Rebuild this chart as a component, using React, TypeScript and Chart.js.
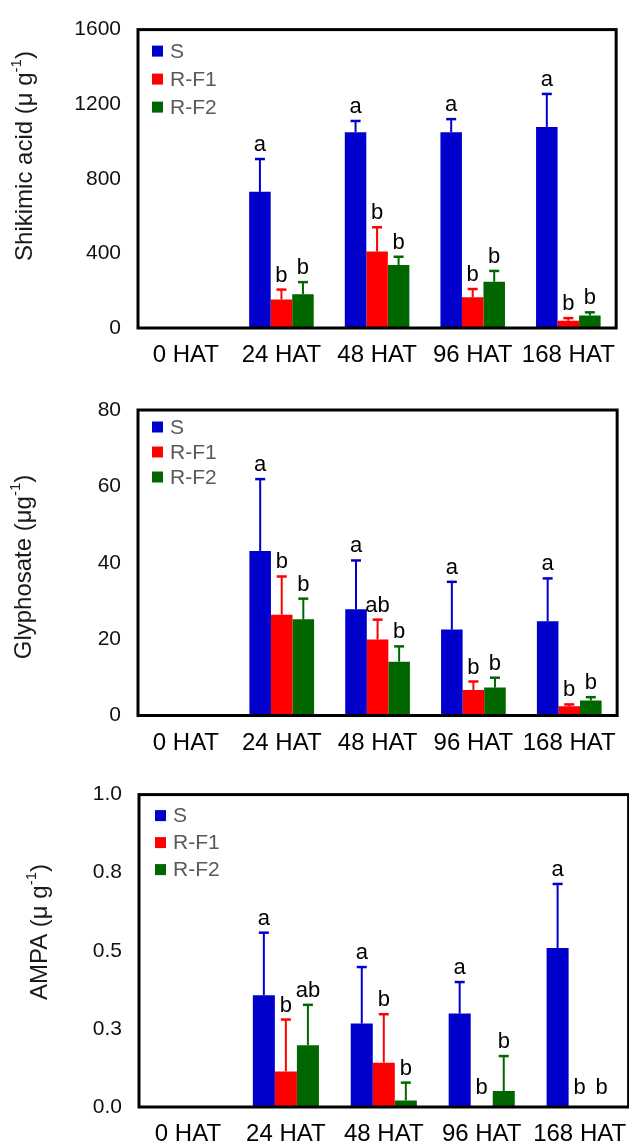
import React, { useEffect, useRef } from "react";
import { Chart, registerables } from "chart.js";

Chart.register(...registerables);

const FONT = '"Liberation Sans", Arial, sans-serif';

const categories = ["0 HAT", "24 HAT", "48 HAT", "96 HAT", "168 HAT"];
const seriesNames = ["S", "R-F1", "R-F2"];
const seriesColors = ["#0000CC", "#FF0000", "#006600"];

// Shikimic acid (µ g-1)
const shikimicS = [0, 730, 1050, 1050, 1078];
const shikimicSErr = [0, 176, 60, 70, 177];
const shikimicF1 = [0, 153, 410, 165, 39];
const shikimicF1Err = [0, 53, 130, 44, 14];
const shikimicF2 = [0, 181, 338, 248, 67];
const shikimicF2Err = [0, 65, 44, 58, 17];
const shikimicLettersS = ["", "a", "a", "a", "a"];
const shikimicLettersF1 = ["", "b", "b", "b", "b"];
const shikimicLettersF2 = ["", "b", "b", "b", "b"];
const shikimicTickValues = [0, 400, 800, 1200, 1600];
const shikimicTickLabels = ["0", "400", "800", "1200", "1600"];

// Glyphosate (µg-1)
const glyphoS = [0, 43.1, 27.8, 22.5, 24.7];
const glyphoSErr = [0, 18.8, 12.8, 12.5, 11.2];
const glyphoF1 = [0, 26.4, 19.9, 6.7, 2.4];
const glyphoF1Err = [0, 10.0, 5.2, 2.2, 0.5];
const glyphoF2 = [0, 25.2, 14.1, 7.3, 3.9];
const glyphoF2Err = [0, 5.4, 4.0, 2.6, 0.9];
const glyphoLettersS = ["", "a", "a", "a", "a"];
const glyphoLettersF1 = ["", "b", "ab", "b", "b"];
const glyphoLettersF2 = ["", "b", "b", "b", "b"];
const glyphoTickValues = [0, 20, 40, 60, 80];
const glyphoTickLabels = ["0", "20", "40", "60", "80"];

// AMPA (µ g-1)
const ampaS = [0, 0.358, 0.267, 0.299, 0.509];
const ampaSErr = [0, 0.2, 0.181, 0.101, 0.205];
const ampaF1 = [0, 0.114, 0.142, 0, 0];
const ampaF1Err = [0, 0.166, 0.155, 0, 0];
const ampaF2 = [0, 0.198, 0.021, 0.051, 0];
const ampaF2Err = [0, 0.129, 0.057, 0.112, 0];
const ampaLettersS = ["", "a", "a", "a", "a"];
const ampaLettersF1 = ["", "b", "b", "b", "b"];
const ampaLettersF2 = ["", "ab", "b", "b", "b"];
const ampaTickValues = [0, 0.25, 0.5, 0.75, 1.0];
const ampaTickLabels = ["0.0", "0.3", "0.5", "0.8", "1.0"];

type PanelDef = {
  values: number[][];
  errors: number[][];
  letters: string[][];
  tickValues: number[];
  tickLabels: string[];
  titleMain: string;
  titleSup: string;
  titleEnd: string;
  top: number;
  height: number;
  width: number;
  area: { left: number; top: number; right: number; bottom: number };
  xAxisH: number;
  titleX: number;
  titleY: number;
  legend: { dx: number; dy: number; gap: number };
};

const panels: PanelDef[] = [
  {
    values: [shikimicS, shikimicF1, shikimicF2],
    errors: [shikimicSErr, shikimicF1Err, shikimicF2Err],
    letters: [shikimicLettersS, shikimicLettersF1, shikimicLettersF2],
    tickValues: shikimicTickValues,
    tickLabels: shikimicTickLabels,
    titleMain: "Shikimic acid (μ g",
    titleSup: "-1",
    titleEnd: ")",
    top: 0,
    height: 380,
    width: 629,
    area: { left: 138, top: 24.5, right: 617, bottom: 328 },
    xAxisH: 40,
    titleX: 25,
    titleY: 156,
    legend: { dx: 14, dy: 21.5, gap: 28 },
  },
  {
    values: [glyphoS, glyphoF1, glyphoF2],
    errors: [glyphoSErr, glyphoF1Err, glyphoF2Err],
    letters: [glyphoLettersS, glyphoLettersF1, glyphoLettersF2],
    tickValues: glyphoTickValues,
    tickLabels: glyphoTickLabels,
    titleMain: "Glyphosate (μg",
    titleSup: "-1",
    titleEnd: ")",
    top: 380,
    height: 385,
    width: 629,
    area: { left: 138, top: 30, right: 626, bottom: 335.5 },
    xAxisH: 40,
    titleX: 24,
    titleY: 187,
    legend: { dx: 14, dy: 17, gap: 25 },
  },
  {
    values: [ampaS, ampaF1, ampaF2],
    errors: [ampaSErr, ampaF1Err, ampaF2Err],
    letters: [ampaLettersS, ampaLettersF1, ampaLettersF2],
    tickValues: ampaTickValues,
    tickLabels: ampaTickLabels,
    titleMain: "AMPA (μ g",
    titleSup: "-1",
    titleEnd: ")",
    top: 765,
    height: 380,
    width: 640,
    area: { left: 139, top: 29, right: 631, bottom: 342 },
    xAxisH: 34,
    titleX: 40,
    titleY: 167,
    legend: { dx: 16, dy: 21, gap: 27 },
  },
];

function makeDecor(def: PanelDef) {
  return {
    id: "panelDecor",
    afterDatasetsDraw(chart: any) {
      const ctx = chart.ctx as CanvasRenderingContext2D;
      const y = chart.scales.y;
      chart.data.datasets.forEach((_ds: any, i: number) => {
        const meta = chart.getDatasetMeta(i);
        meta.data.forEach((el: any, j: number) => {
          const v = def.values[i][j];
          const e = def.errors[i][j];
          const x = el.x;
          const yBar = y.getPixelForValue(v);
          const yTop = y.getPixelForValue(v + e);
          ctx.save();
          if (e > 0) {
            ctx.strokeStyle = seriesColors[i];
            ctx.lineWidth = 2;
            ctx.beginPath();
            ctx.moveTo(x, yBar);
            ctx.lineTo(x, yTop);
            ctx.stroke();
            ctx.lineWidth = 2.5;
            ctx.beginPath();
            ctx.moveTo(x - 5, yTop);
            ctx.lineTo(x + 5, yTop);
            ctx.stroke();
          }
          const letter = def.letters[i][j];
          if (letter) {
            ctx.fillStyle = "#000";
            ctx.font = `22px ${FONT}`;
            ctx.textAlign = "center";
            ctx.textBaseline = "alphabetic";
            ctx.fillText(letter, x, yTop - (e > 0 ? 8 : 13));
          }
          ctx.restore();
        });
      });
    },
    afterDraw(chart: any) {
      const ctx = chart.ctx as CanvasRenderingContext2D;
      const a = chart.chartArea;
      ctx.save();
      // frame
      ctx.strokeStyle = "#000";
      ctx.lineWidth = 3;
      ctx.strokeRect(a.left, a.top, a.right - a.left, a.bottom - a.top);
      // legend
      seriesNames.forEach((name, i) => {
        const cy = a.top + def.legend.dy + i * def.legend.gap;
        const sx = a.left + def.legend.dx;
        ctx.fillStyle = seriesColors[i];
        ctx.fillRect(sx, cy - 5.5, 11, 11);
        ctx.fillStyle = "#595959";
        ctx.font = `21px ${FONT}`;
        ctx.textAlign = "left";
        ctx.textBaseline = "middle";
        ctx.fillText(name, sx + 18, cy + 1);
      });
      // y title with superscript
      ctx.translate(def.titleX, def.titleY);
      ctx.rotate(-Math.PI / 2);
      ctx.fillStyle = "#1a1a1a";
      ctx.textAlign = "left";
      ctx.textBaseline = "middle";
      const mainFont = `24px ${FONT}`;
      const supFont = `15px ${FONT}`;
      ctx.font = mainFont;
      const wMain = ctx.measureText(def.titleMain).width;
      const wEnd = ctx.measureText(def.titleEnd).width;
      ctx.font = supFont;
      const wSup = ctx.measureText(def.titleSup).width;
      const total = wMain + wSup + wEnd;
      let sx = -total / 2;
      ctx.font = mainFont;
      ctx.fillText(def.titleMain, sx, 0);
      sx += wMain;
      ctx.font = supFont;
      ctx.fillText(def.titleSup, sx, -8);
      sx += wSup;
      ctx.font = mainFont;
      ctx.fillText(def.titleEnd, sx, 0);
      ctx.restore();
    },
  };
}

function Panel({ def }: { def: PanelDef }) {
  const ref = useRef<HTMLCanvasElement>(null);
  useEffect(() => {
    const canvas = ref.current;
    if (!canvas) return;
    const tickVals = def.tickValues;
    const step = tickVals[1] - tickVals[0];
    const chart = new Chart(canvas, {
      type: "bar",
      data: {
        labels: categories,
        datasets: seriesNames.map((name, i) => ({
          label: name,
          data: def.values[i],
          backgroundColor: seriesColors[i],
          borderWidth: 0,
          categoryPercentage: 0.675,
          barPercentage: 1,
        })),
      },
      options: {
        responsive: false,
        animation: false,
        devicePixelRatio: 1,
        layout: {
          padding: {
            left: 0,
            top: def.area.top,
            right: def.width - def.area.right,
            bottom: def.height - def.xAxisH - def.area.bottom,
          },
        },
        plugins: {
          legend: { display: false },
          tooltip: { enabled: false },
          title: { display: false },
        },
        scales: {
          x: {
            grid: { display: false, drawTicks: false },
            border: { display: false },
            ticks: {
              font: { family: FONT, size: 24 },
              color: "#000",
              padding: 13,
              maxRotation: 0,
              autoSkip: false,
            },
            afterFit: (s: any) => {
              s.height = def.xAxisH;
            },
          },
          y: {
            min: tickVals[0],
            max: tickVals[tickVals.length - 1],
            grid: { display: false, drawTicks: false },
            border: { display: false },
            ticks: {
              stepSize: step,
              font: { family: FONT, size: 21 },
              color: "#111",
              padding: 17,
              callback: (value: any) => {
                const idx = tickVals.findIndex((t) => Math.abs(t - Number(value)) < 1e-9);
                return idx >= 0 ? def.tickLabels[idx] : "";
              },
            },
            afterFit: (s: any) => {
              s.width = def.area.left;
            },
          },
        },
      } as any,
      plugins: [makeDecor(def)],
    });
    return () => chart.destroy();
  }, [def]);
  return (
    <canvas
      ref={ref}
      width={def.width}
      height={def.height}
      style={{ position: "absolute", left: 0, top: def.top, width: def.width, height: def.height }}
    />
  );
}

export default function App() {
  return (
    <div
      style={{
        position: "fixed",
        left: 0,
        top: 0,
        width: 629,
        height: 1145,
        overflow: "hidden",
        background: "#fff",
      }}
    >
      {panels.map((p, i) => (
        <Panel key={i} def={p} />
      ))}
    </div>
  );
}
